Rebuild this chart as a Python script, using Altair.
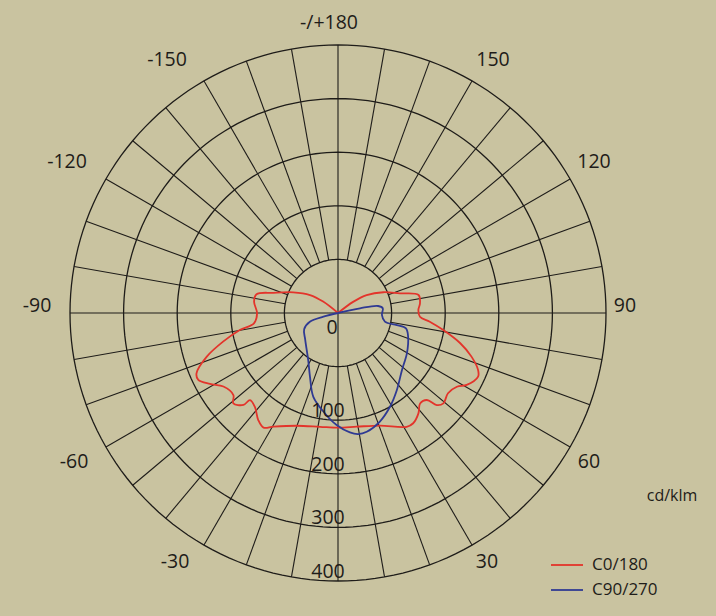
import altair as alt
import pandas as pd

# ---------------- data ----------------
ring_values = [100, 200, 300, 400, 500]
ring_label_text = ["100", "200", "300", "400"]
ring_label_at = [200, 300, 400, 500]
center_label = ["0"]
spoke_angles = list(range(0, 360, 10))
axis_angles = [0, 90, 180, 270]

angle_label_text = ["-/+180", "150", "120", "90", "60", "30",
                    "-30", "-60", "-90", "-120", "-150"]

# C0/180 (negative angles = C180 half, positive = C0 half)
red_angles = [-133, -127.5, -122.7, -114.8, -107.4, -103.0, -97.7, -89.8, -83.0,
              -80.2, -76.0, -71.6, -66.9, -64.4, -61.0, -57.3, -51.9, -49.2, -45.8,
              -45.3, -41.5, -36.7, -33.0, -29.6, -20.1, -9.0, 0,
              9.3, 20.4, 31.1, 34.3, 38.7, 42.2, 45.6, 47.0, 49.4, 53.9, 58.2, 60.8,
              65.6, 67.9, 71.9, 76.1, 80.8, 84.6, 87.4, 92.1, 96.7, 102.6, 107.6,
              114.6, 122.1, 126.4, 132]
red_values = [0, 35, 62, 92, 126, 156, 158, 151, 158,
              186, 221, 258, 287, 289, 273, 254, 248, 258, 246,
              231, 234, 249, 255, 244, 224, 215, 214,
              215, 224, 248, 249, 240, 228, 232, 252, 259, 254, 261, 275,
              287, 282, 262, 235, 199, 172, 153, 150, 154, 154, 121,
              93, 63, 35, 0]

# C90/270 (negative angles = C270 half, positive = C90 half)
blue_angles = [-76, -75.9, -72.7, -64.4, -50.7, -32.3, -23.7, -16.4, -7.4, -0.7,
               5.7, 9.5, 13.6, 21.1, 29.0, 37.3, 48.2, 59.6, 71.4, 77.3, 78.4,
               79.5, 87.4, 96.0, 99.9, 102.1, 104]
blue_values = [0, 28, 55, 70, 79, 104, 130, 163, 189, 209,
               224, 229, 228, 217, 200, 181, 160, 149, 138, 130, 112,
               89, 82, 84, 76, 42, 0]

series_names = ["C0/180", "C90/270"]
series_colors = ["#e3342b", "#2f3a93"]
unit_label = ["cd/klm"]

# ---------------- layout ----------------
PAD_L, PAD_T, PAD_R, PAD_B = 30, 5, 68, 10
OX, OY = 8 + PAD_L, 8 + PAD_T          # page position of plot-area origin
CX_PX, CY_PX = 300, 300                # centre of the polar grid inside the plot area
PLOT_W, PLOT_H = 600, 580
OUTER_PX = 268.0
OUTER_VAL = ring_values[-1]
PXU = OUTER_PX / OUTER_VAL             # pixels per unit
INK = "#1e1c19"
FONT = "Open Sans"
BG = "#c9c3a0"

# page-pixel centres of the angle labels (same order as angle_label_text)
ANGLE_LABEL_PX = [(329, 23), (493, 60), (594, 162), (625, 306), (589, 462), (487, 562),
                  (175, 562), (74, 462), (37, 306), (67, 162), (167, 60)]

# make the page itself match the chart background (8px body margin)
try:
    import altair.utils.html as _h
    for _tpl in list(_h.TEMPLATES.values()):
        _orig_render = _tpl.render

        def _render(*a, _o=_orig_render, **k):
            return _o(*a, **k).replace(
                "</head>", "<style>html,body{background:%s;}</style></head>" % BG, 1)
        _tpl.render = _render
except Exception:
    pass

xs = alt.Scale(domain=[-CX_PX / PXU, (PLOT_W - CX_PX) / PXU], nice=False, zero=False)
ys = alt.Scale(domain=[-(PLOT_H - CY_PX) / PXU, CY_PX / PXU], nice=False, zero=False)

SIN = "sin(datum.a * PI / 180)"
COS = "cos(datum.a * PI / 180)"


def xy(chart, r="datum.v", xn="x", yn="y"):
    return chart.transform_calculate(
        **{xn: f"{r} * {SIN}", yn: f"-({r}) * {COS}"}
    )


# rings
ring_rows = [{"ring": r, "a": a, "v": r} for r in ring_values for a in range(0, 362, 2)]
rings = xy(alt.Chart(pd.DataFrame(ring_rows))).mark_line(
    color=INK, strokeWidth=1.3
).encode(
    x=alt.X("x:Q", scale=xs, axis=None),
    y=alt.Y("y:Q", scale=ys, axis=None),
    detail="ring:N",
    order="a:Q",
)

# spokes
spoke_df = pd.DataFrame({
    "a": spoke_angles,
    "r0": [0 if a in axis_angles else ring_values[0] for a in spoke_angles],
    "r1": [ring_values[-1]] * len(spoke_angles),
})
spokes = alt.Chart(spoke_df).transform_calculate(
    x0=f"datum.r0 * {SIN}", y0=f"-datum.r0 * {COS}",
    x1=f"datum.r1 * {SIN}", y1=f"-datum.r1 * {COS}",
).mark_rule(color=INK, strokeWidth=1.1).encode(
    x=alt.X("x0:Q", scale=xs, axis=None),
    y=alt.Y("y0:Q", scale=ys, axis=None),
    x2="x1:Q",
    y2="y1:Q",
)

# curves
curve_rows = []
for i, (a, v) in enumerate(zip(red_angles, red_values)):
    curve_rows.append({"series": series_names[0], "i": i, "a": a, "v": v})
for i, (a, v) in enumerate(zip(blue_angles, blue_values)):
    curve_rows.append({"series": series_names[1], "i": i, "a": a, "v": v})
curves = xy(alt.Chart(pd.DataFrame(curve_rows))).mark_line(
    strokeWidth=1.8, interpolate="catmull-rom"
).encode(
    x=alt.X("x:Q", scale=xs, axis=None),
    y=alt.Y("y:Q", scale=ys, axis=None),
    order="i:Q",
    color=alt.Color(
        "series:N",
        scale=alt.Scale(domain=series_names, range=series_colors),
        legend=alt.Legend(
            title=None, orient="none", legendX=512, legendY=535,
            symbolType="stroke", symbolSize=1024, symbolStrokeWidth=1.8,
            labelFont=FONT, labelFontSize=17, labelColor=INK,
            labelOffset=8, rowPadding=-9, padding=0,
        ),
    ),
)

# radial labels
rl = xy(alt.Chart(pd.DataFrame({"t": ring_label_text, "v": ring_label_at, "a": 0}))).mark_text(
    font=FONT, fontSize=19.5, color=INK, align="center", baseline="alphabetic", dx=-10, dy=-3
).encode(x=alt.X("x:Q", scale=xs), y=alt.Y("y:Q", scale=ys), text="t:N")

cl = alt.Chart(pd.DataFrame({"t": center_label})).transform_calculate(
    x="0", y="0"
).mark_text(
    font=FONT, fontSize=19.5, color=INK, align="center", baseline="alphabetic", dx=-6, dy=21
).encode(x=alt.X("x:Q", scale=xs), y=alt.Y("y:Q", scale=ys), text="t:N")

# angle labels
al_df = pd.DataFrame({
    "t": angle_label_text,
    "px": [p[0] - OX for p in ANGLE_LABEL_PX],
    "py": [p[1] - OY for p in ANGLE_LABEL_PX],
})
al = alt.Chart(al_df).mark_text(
    font=FONT, fontSize=19.5, color=INK, align="center", baseline="middle"
).encode(x=alt.X("px:Q", scale=None), y=alt.Y("py:Q", scale=None), text="t:N")

unit = alt.Chart(pd.DataFrame({"t": unit_label})).mark_text(
    font=FONT, fontSize=16, color=INK, align="center", baseline="middle"
).encode(x=alt.value(672 - OX), y=alt.value(496 - OY), text="t:N")

chart = alt.layer(rings, spokes, curves, rl, cl, al, unit).properties(
    width=PLOT_W, height=PLOT_H,
    padding={"left": PAD_L, "top": PAD_T, "right": PAD_R, "bottom": PAD_B},
    autosize=alt.AutoSizeParams(type="none"),
    background=BG,
).configure_view(stroke=None)

chart.save("out.html", embed_options={"renderer": "svg", "actions": False})
